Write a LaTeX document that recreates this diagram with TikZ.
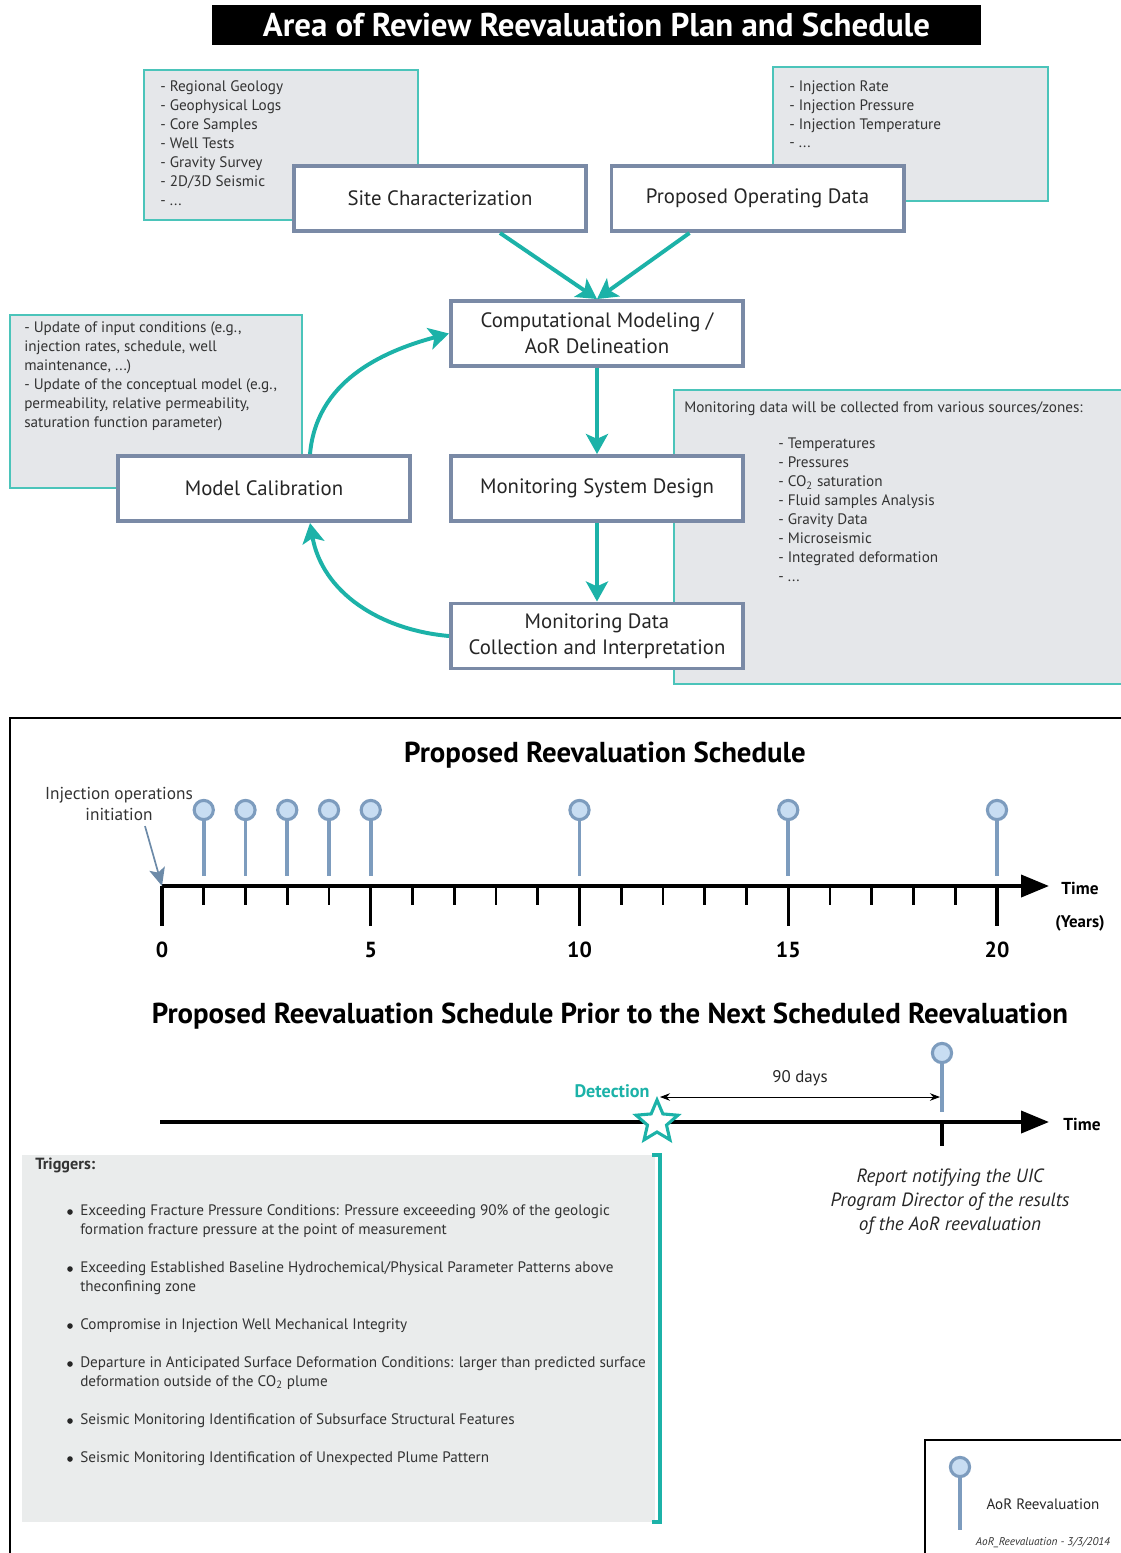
\documentclass[tikz,border=0pt]{standalone}
\usepackage{fontspec}
\setmainfont{PT Sans}
\usetikzlibrary{arrows.meta,shapes.geometric}

\definecolor{flowteal}{RGB}{28,178,168}
\definecolor{boxteal}{RGB}{75,196,186}
\definecolor{boxgray}{RGB}{229,231,234}
\definecolor{trigray}{RGB}{234,236,236}
\definecolor{nodeframe}{RGB}{122,138,166}
\definecolor{pinblue}{RGB}{125,156,190}
\definecolor{pinfill}{RGB}{200,221,242}
\definecolor{initblue}{RGB}{108,138,168}

\begin{document}
\begin{tikzpicture}[x=0.025cm,y=-0.025cm]
    % Styles
    \tikzset{
        stepnode/.style={draw=nodeframe, line width=2.8pt, fill=white, minimum width=7.3cm, minimum height=1.625cm, align=center, inner sep=2pt, font=\fontsize{14.8}{18.5}\selectfont, text=black!85},
        infobox/.style={draw=boxteal, line width=1.5pt, fill=boxgray},
        infotext/.style={anchor=north west, align=left, inner sep=0pt, font=\fontsize{10.8}{13.5}\selectfont, text=black!80},
        flowarrow/.style={draw=flowteal, line width=2.8pt, -{Stealth[length=5mm,width=5.5mm,inset=1.2mm]}},
        pinstem/.style={draw=pinblue, line width=2.8pt},
        pinhead/.style={draw=pinblue, line width=2.2pt, fill=pinfill},
        axisline/.style={line width=2.8pt, -{Triangle[length=7mm,width=5.5mm]}},
        minortick/.style={line width=2pt},
        majortick/.style={line width=2.4pt},
        heading/.style={font=\bfseries\fontsize{20.5}{24}\selectfont},
        trigtext/.style={anchor=north west, align=left, inner sep=0pt, font=\fontsize{10.8}{13.5}\selectfont, text=black!80}
    }
    \useasboundingbox (0,0) rectangle (1120,1553);

    % Title
    \node[fill=black, text=white, minimum width=19.225cm, minimum height=1cm, font=\bfseries\fontsize{23.4}{26}\selectfont] (title) at (596.5,25) {Area of Review Reevaluation Plan and Schedule};

    % Info boxes
    \draw[infobox] (144,70) rectangle (418,220);
    \node[infotext] (geoinfo) at (160,80) {- Regional Geology\\- Geophysical Logs\\- Core Samples\\- Well Tests\\- Gravity Survey\\- 2D/3D Seismic\\- ...};

    \draw[infobox] (773,67) rectangle (1048,201);
    \node[infotext] (opinfo) at (789,80) {- Injection Rate\\- Injection Pressure\\- Injection Temperature\\- ...};

    \draw[infobox] (10,315) rectangle (302,488);
    \node[infotext] (calinfo) at (24,321) {- Update of input conditions (e.g.,\\injection rates, schedule, well\\maintenance, ...)\\- Update of the conceptual model (e.g.,\\permeability, relative permeability,\\saturation function parameter)};

    \draw[infobox] (674,390) rectangle (1125,684);
    \node[infotext] (moninfo) at (684,401) {Monitoring data will be collected from various sources/zones:};
    \node[infotext] (monlist) at (778,438) {- Temperatures\\- Pressures\\- CO\textsubscript{2} saturation\\- Fluid samples Analysis\\- Gravity Data\\- Microseismic\\- Integrated deformation\\- ...};

    % Flow steps
    \node[stepnode] (site) at (440,198.5) {Site Characterization};
    \node[stepnode] (oper) at (757.5,198.5) {Proposed Operating Data};
    \node[stepnode] (comp) at (597,333.5) {Computational Modeling /\\AoR Delineation};
    \node[stepnode] (calib) at (264,488.5) {Model Calibration};
    \node[stepnode] (monsys) at (597,488.5) {Monitoring System Design};
    \node[stepnode] (mondata) at (597,636) {Monitoring Data\\Collection and Interpretation};

    % Flow arrows
    \draw[flowarrow] ([xshift=1.5cm]site.south) -- (comp.north);
    \draw[flowarrow] ([xshift=-1.7cm]oper.south) -- (comp.north);
    \draw[flowarrow] (comp.south) -- (monsys.north);
    \draw[flowarrow] (monsys.south) -- (mondata.north);
    \draw[flowarrow] (mondata.west) to[out=175, in=-80] ([xshift=1.15cm]calib.south);
    \draw[flowarrow] ([xshift=1.15cm]calib.north) to[out=85, in=195] (comp.west);

    % Lower frame
    \draw[line width=1.5pt] (10,1560) -- (10,718) -- (1125,718);

    % Reevaluation schedule
    \node[heading] (schedhead) at (605,755) {Proposed Reevaluation Schedule};
    \coordinate (t0) at (162,886);
    \draw[axisline] (t0) -- (1049,886);
    \foreach \yr in {1,...,19}
        \draw[minortick] ({162+41.75*\yr},886) -- ({162+41.75*\yr},905);
    \foreach \yr in {0,5,10,15,20} {
        \draw[majortick] ({162+41.75*\yr},886) -- ({162+41.75*\yr},926);
        \node[font=\bfseries\fontsize{15.5}{18}\selectfont] (yr\yr) at ({162+41.75*\yr},950) {\yr};
    }
    \foreach \yr in {1,2,3,4,5,10,15,20} {
        \draw[pinstem] ({162+41.75*\yr},818) -- ({162+41.75*\yr},876);
        \draw[pinhead] ({162+41.75*\yr},810) circle (0.24cm);
    }
    \node[font=\bfseries\fontsize{12.3}{14}\selectfont] (timelbl) at (1080,888) {Time};
    \node[font=\bfseries\fontsize{12}{14}\selectfont] (yearslbl) at (1080,923) {(Years)};
    \node[align=center, font=\fontsize{12.3}{15.5}\selectfont, text=black!80] (initlbl) at (119,804) {Injection operations\\initiation};
    \draw[initblue, line width=1.2pt, -{Stealth[length=4.5mm,width=4mm,inset=1mm]}] ([xshift=0.65cm]initlbl.south) -- (t0);

    % Schedule prior to the next reevaluation
    \node[heading] (priorhead) at (610,1016) {Proposed Reevaluation Schedule Prior to the Next Scheduled Reevaluation};
    \draw[axisline] (160,1122) -- (1049,1122);
    \node[font=\bfseries\fontsize{12.3}{14}\selectfont] (timelbl2) at (1082,1124) {Time};
    \draw[majortick, line width=2.8pt] (942,1122) -- (942,1146);
    \draw[pinstem] (942,1061) -- (942,1112);
    \draw[pinhead] (942,1053) circle (0.24cm);
    \node[star, star points=5, star point ratio=2.2, minimum size=1.1cm, inner sep=0pt, draw=flowteal, line width=2.2pt, fill=white] (detect) at (657,1122) {};
    \node[font=\bfseries\fontsize{12.9}{15}\selectfont, text=flowteal] (detectlbl) at (612,1091) {Detection};
    \coordinate (daysstart) at (660,1097);
    \coordinate (daysend) at (940,1097);
    \draw[line width=0.6pt, {Stealth[length=2.5mm]}-{Stealth[length=2.5mm]}] (daysstart) -- (daysend) node[midway, above=4pt, font=\fontsize{12}{14}\selectfont, text=black!85] (dayslbl) {90 days};
    \node[align=center, font=\itshape\fontsize{13.6}{17}\selectfont, text=black!85] (reportlbl) at (950,1202) {Report notifying the UIC\\Program Director of the results\\of the AoR reevaluation};

    % Triggers
    \fill[trigray] (22,1155) rectangle (655,1522);
    \draw[flowteal, line width=2.2pt] (652,1155) -- (660,1155) -- (660,1522) -- (652,1522);
    \node[trigtext, font=\bfseries\fontsize{11.5}{13}\selectfont] (trighead) at (35,1158) {Triggers:};
    \foreach \y in {1212,1269,1326,1364,1421,1459}
        \fill[black!85] (70,\y) circle (0.07cm);
    \node[trigtext] (trigA) at (80,1204) {Exceeding Fracture Pressure Conditions: Pressure exceeeding 90\% of the geologic\\formation fracture pressure at the point of measurement};
    \node[trigtext] (trigB) at (80,1261) {Exceeding Established Baseline Hydrochemical/Physical Parameter Patterns above\\theconfining zone};
    \node[trigtext] (trigC) at (80,1318) {Compromise in Injection Well Mechanical Integrity};
    \node[trigtext] (trigD) at (80,1356) {Departure in Anticipated Surface Deformation Conditions: larger than predicted surface\\deformation outside of the CO\textsubscript{2} plume};
    \node[trigtext] (trigE) at (80,1413) {Seismic Monitoring Identification of Subsurface Structural Features};
    \node[trigtext] (trigF) at (80,1451) {Seismic Monitoring Identification of Unexpected Plume Pattern};

    % Legend
    \draw[line width=1.5pt] (925,1560) -- (925,1440) -- (1125,1440);
    \draw[pinstem] (960,1475) -- (960,1530);
    \draw[pinhead] (960,1467) circle (0.24cm);
    \node[font=\fontsize{10.7}{12}\selectfont, text=black!85] (leglbl) at (1043,1504) {AoR Reevaluation};
    \node[font=\itshape\fontsize{8}{9}\selectfont, text=black!80] (legdate) at (1043,1543) {AoR\_Reevaluation - 3/3/2014};
\end{tikzpicture}
\end{document}
